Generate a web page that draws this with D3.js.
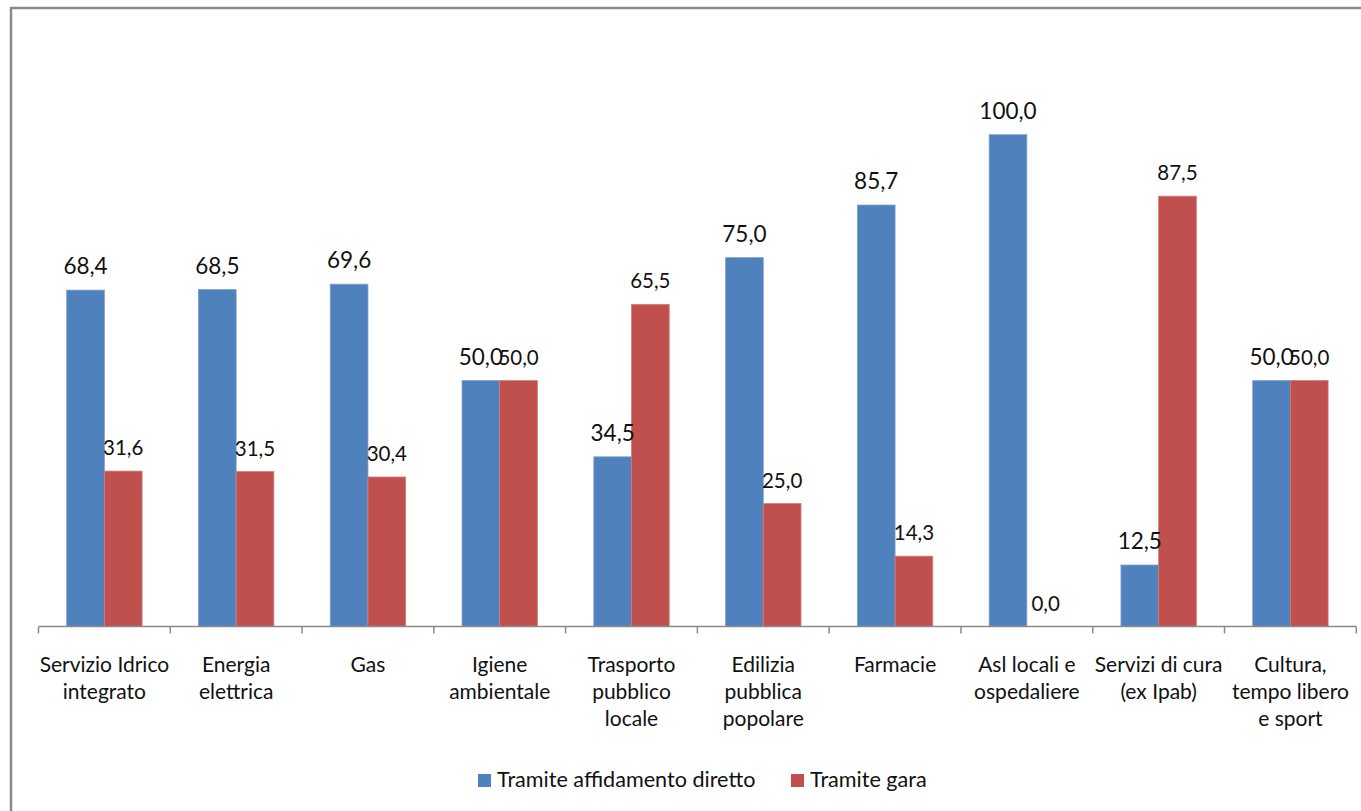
<!DOCTYPE html>
<html>
<head>
<meta charset="utf-8">
<script src="https://cdn.jsdelivr.net/npm/d3@7"></script>
<style>
  html, body { margin: 0; padding: 0; background: #fff; }
  svg { display: block; }
  text { font-family: Lato, "Open Sans", sans-serif; fill: #111; }
</style>
</head>
<body>
<svg id="chart" width="1361" height="811"></svg>
<script>
// Services and share of assignments (%) by procedure
const categories = [
  ["Servizio Idrico", "integrato"],
  ["Energia", "elettrica"],
  ["Gas"],
  ["Igiene", "ambientale"],
  ["Trasporto", "pubblico", "locale"],
  ["Edilizia", "pubblica", "popolare"],
  ["Farmacie"],
  ["Asl locali e", "ospedaliere"],
  ["Servizi di cura", "(ex Ipab)"],
  ["Cultura,", "tempo libero", "e sport"]
];
const seriesNames = ["Tramite affidamento diretto", "Tramite gara"];
const direttoValues = [68.4, 68.5, 69.6, 50.0, 34.5, 75.0, 85.7, 100.0, 12.5, 50.0];
const garaValues    = [31.6, 31.5, 30.4, 50.0, 65.5, 25.0, 14.3, 0.0, 87.5, 50.0];
const colors = ["#4F81BD", "#C0504D"];
const edgeColors = ["#7d9fcf", "#d47b78"];

const svg = d3.select("#chart");

// outer frame
svg.append("rect")
  .attr("x", 11).attr("y", 8)
  .attr("width", 1420).attr("height", 900)
  .attr("fill", "none").attr("stroke", "#8a8a8a").attr("stroke-width", 2.5);

const idx = d3.range(categories.length);
const x = d3.scaleBand().domain(idx).range([38.5, 1356.3])
  .paddingInner(0.428).paddingOuter(0.214);
const xs = d3.scaleBand().domain([0, 1]).range([0, x.bandwidth()]);
const y = d3.scaleLinear().domain([0, 100]).range([626.5, 134.7]);

const fmt = v => v.toFixed(1).replace(".", ",");
const series = [direttoValues, garaValues];

// bars
series.forEach((vals, s) => {
  svg.append("g").selectAll("rect").data(idx).join("rect")
    .attr("x", i => x(i) + xs(s))
    .attr("y", i => y(vals[i]))
    .attr("width", xs.bandwidth())
    .attr("height", i => y(0) - y(vals[i]))
    .attr("fill", colors[s])
    .attr("stroke", edgeColors[s]).attr("stroke-width", 0.8);
});

// value labels (the two 50,0 pairs touch each other, as drawn by the source chart)
series.forEach((vals, s) => {
  svg.append("g").selectAll("text").data(idx).join("text")
    .attr("x", i => x(i) + xs(s) + xs.bandwidth() / 2)
    .attr("y", i => y(vals[i]) - 16)
    .attr("text-anchor", "middle")
    .style("font-size", s === 0 ? "22.5px" : "20.5px")
    .text(i => fmt(vals[i]));
});

// category axis
const step = x.step();
const axisY = y(0);
const axisG = svg.append("g");
axisG.append("line")
  .attr("x1", 38.5).attr("x2", 1356.3)
  .attr("y1", axisY).attr("y2", axisY)
  .attr("stroke", "#8a8a8a").attr("stroke-width", 1.5);
axisG.selectAll("line.tick").data(d3.range(categories.length + 1)).join("line")
  .attr("class", "tick")
  .attr("x1", k => 38.5 + k * step).attr("x2", k => 38.5 + k * step)
  .attr("y1", axisY).attr("y2", axisY + 7)
  .attr("stroke", "#8a8a8a").attr("stroke-width", 1.5);

const labels = axisG.selectAll("text.cat").data(idx).join("text")
  .attr("class", "cat")
  .attr("text-anchor", "middle")
  .style("font-size", "21px");
labels.each(function(i) {
  const t = d3.select(this);
  categories[i].forEach((line, j) => {
    t.append("tspan")
      .attr("x", x(i) + x.bandwidth() / 2)
      .attr("y", 672 + j * 27)
      .text(line);
  });
});

// legend
const legend = svg.append("g");
const legendItems = [
  { name: seriesNames[0], color: colors[0], x: 478 },
  { name: seriesNames[1], color: colors[1], x: 791 }
];
legendItems.forEach(d => {
  legend.append("rect")
    .attr("x", d.x).attr("y", 774)
    .attr("width", 13).attr("height", 13)
    .attr("fill", d.color);
  legend.append("text")
    .attr("x", d.x + 19).attr("y", 787)
    .style("font-size", "21.6px")
    .text(d.name);
});
</script>
</body>
</html>
